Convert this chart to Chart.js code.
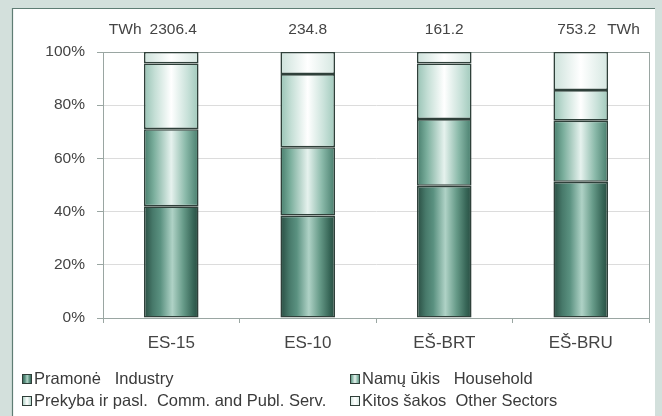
<!DOCTYPE html>
<html>
<head>
<meta charset="utf-8">
<script src="https://cdn.jsdelivr.net/npm/chart.js@4/dist/chart.umd.min.js"></script>
<style>
  html, body { margin: 0; padding: 0; background: #d3e0dc; }
  #wrap { position: relative; width: 662px; height: 416px; }
  canvas { display: block; }
</style>
</head>
<body>
<div id="wrap"><canvas id="c" width="662" height="416"></canvas></div>
<script>
// ---- data ----
const categories = ['ES-15', 'ES-10', 'EŠ-BRT', 'EŠ-BRU'];
const industry  = [42.0, 38.5, 49.7, 51.2];
const household = [29.0, 25.7, 25.1, 23.0];
const commServ  = [24.7, 27.5, 20.9, 11.5];
const otherSect = [4.3, 8.3, 4.3, 14.3];
const totalsTWh = ['2306.4', '234.8', '161.2', '753.2'];
const unitLabel = 'TWh';
const seriesLabels = [
  'Pramonė   Industry',
  'Namų ūkis   Household',
  'Prekyba ir pasl.  Comm. and Publ. Serv.',
  'Kitos šakos  Other Sectors'
];
const yTicks = [0, 20, 40, 60, 80, 100];

// ---- styles ----
const palettes = [
  [[0,'#284c41'],[0.16,'#47796a'],[0.3,'#5a9180'],[0.52,'#afd2c6'],[0.72,'#679b89'],[0.9,'#376657'],[1,'#284c41']],
  [[0,'#477d6c'],[0.18,'#7aae9c'],[0.5,'#e6f2ee'],[0.76,'#8bbaaa'],[1,'#477d6c']],
  [[0,'#98c3b5'],[0.2,'#c5dfd6'],[0.5,'#ffffff'],[0.8,'#c8e1d9'],[1,'#a0c9bb']],
  [[0,'#cde2db'],[0.5,'#ffffff'],[1,'#d5e7e1']]
];
const BAR_FRAC = 0.40;
const FONT = '"Liberation Sans", Arial, sans-serif';

function grad(ctx2d, x0, x1, stops) {
  const g = ctx2d.createLinearGradient(x0, 0, x1, 0);
  stops.forEach(s => g.addColorStop(s[0], s[1]));
  return g;
}
function barFill(si) {
  return (ctx) => {
    const chart = ctx.chart;
    if (!chart.chartArea || ctx.dataIndex === undefined) return palettes[si][1][1];
    const xs = chart.scales.x;
    const cx = xs.getPixelForValue(ctx.dataIndex);
    const w = (xs.width / categories.length) * BAR_FRAC;
    return grad(chart.ctx, cx - w / 2, cx + w / 2, palettes[si]);
  };
}

const panelPlugin = {
  id: 'panel',
  beforeDraw(chart) {
    const c = chart.ctx;
    c.save();
    c.fillStyle = '#d3e0dc';
    c.fillRect(0, 0, chart.width, chart.height);
    c.fillStyle = '#ffffff';
    c.fillRect(12, 8, 643, 408);
    c.strokeStyle = '#5f7d74';
    c.lineWidth = 1.2;
    c.beginPath();
    c.moveTo(12.5, 416); c.lineTo(12.5, 8.5); c.lineTo(655, 8.5);
    c.stroke();
    c.restore();
  },
  beforeDatasetsDraw(chart) {
    const a = chart.chartArea, c = chart.ctx;
    c.save();
    c.strokeStyle = '#9aa6a2';
    c.lineWidth = 1;
    c.strokeRect(Math.round(a.left) + 0.5, Math.round(a.top) + 0.5,
                 Math.round(a.right - a.left), Math.round(a.bottom - a.top));
    c.restore();
  }
};

const topLabelPlugin = {
  id: 'topLabels',
  afterDraw(chart) {
    const c = chart.ctx, xs = chart.scales.x;
    c.save();
    c.font = '15.5px ' + FONT;
    c.fillStyle = '#444444';
    c.textBaseline = 'middle';
    c.textAlign = 'center';
    const y = 30;
    totalsTWh.forEach((t, i) => {
      const cx = xs.getPixelForValue(i) + (i === 0 ? 2 : (i === totalsTWh.length - 1 ? -4 : 0));
      c.fillText(t, cx, y);
      const w = c.measureText(t).width;
      if (i === 0) {
        c.textAlign = 'right';
        c.fillText(unitLabel, cx - w / 2 - 8, y);
        c.textAlign = 'center';
      }
      if (i === totalsTWh.length - 1) {
        c.textAlign = 'left';
        c.fillText(unitLabel, cx + w / 2 + 11, y);
        c.textAlign = 'center';
      }
    });
    c.restore();
  }
};

const legendPlugin = {
  id: 'customLegend',
  afterDraw(chart) {
    const c = chart.ctx;
    const cols = [22, 350];
    const rows = [379, 401];
    c.save();
    c.font = '16.5px ' + FONT;
    c.textBaseline = 'middle';
    chart.data.datasets.forEach((ds, i) => {
      const x = cols[i % 2], y = rows[Math.floor(i / 2)];
      const s = 10;
      c.fillStyle = grad(c, x, x + s, palettes[i]);
      c.fillRect(x, y - s / 2, s, s);
      c.strokeStyle = '#2f3d38';
      c.lineWidth = 1;
      c.strokeRect(x + 0.5, y - s / 2 + 0.5, s - 1, s - 1);
      c.fillStyle = '#3a3a3a';
      c.textAlign = 'left';
      c.fillText(ds.label, x + 12, y);
    });
    c.restore();
  }
};

const series = [industry, household, commServ, otherSect];
new Chart(document.getElementById('c'), {
  type: 'bar',
  data: {
    labels: categories,
    datasets: series.map((d, i) => ({
      label: seriesLabels[i],
      data: d,
      backgroundColor: barFill(i),
      borderColor: '#2f403a',
      borderWidth: 1.6,
      borderSkipped: false,
      barPercentage: BAR_FRAC,
      categoryPercentage: 1.0
    }))
  },
  options: {
    responsive: false,
    animation: false,
    layout: { padding: { left: 0, top: 52, right: 13, bottom: 56 } },
    plugins: { legend: { display: false }, tooltip: { enabled: false } },
    scales: {
      x: {
        stacked: true,
        afterFit(scale) { scale.height = 42; },
        grid: { drawOnChartArea: false, drawTicks: true, tickLength: 5, color: '#9aa6a2', offset: true },
        border: { color: '#9aa6a2' },
        ticks: { font: { family: FONT, size: 17 }, color: '#444444', padding: 10 }
      },
      y: {
        stacked: true,
        min: 0, max: 100,
        afterFit(scale) { scale.width = 103; },
        afterBuildTicks(scale) { scale.ticks = yTicks.map(v => ({ value: v })); },
        grid: { color: '#dcdcdc', tickColor: '#9aa6a2', tickLength: 6, lineWidth: 1 },
        border: { color: '#9aa6a2' },
        ticks: {
          font: { family: FONT, size: 15.5 }, color: '#444444', padding: 12,
          callback: v => v + '%'
        }
      }
    }
  },
  plugins: [panelPlugin, topLabelPlugin, legendPlugin]
});
</script>
</body>
</html>
